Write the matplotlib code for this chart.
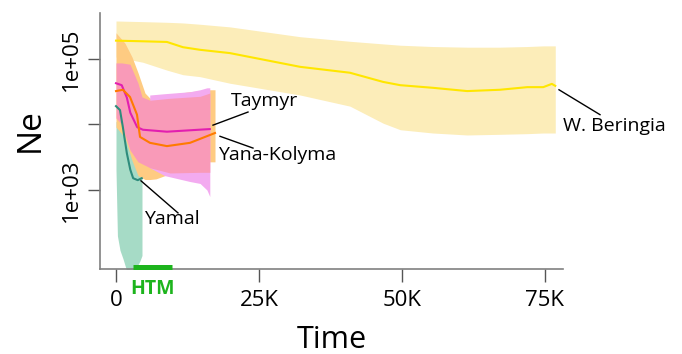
import matplotlib
matplotlib.use("Agg")
import matplotlib.pyplot as plt
import matplotlib.transforms as mtransforms
import numpy as np

plt.rcParams['font.family'] = ['Open Sans', 'DejaVu Sans']

# W. Beringia
wb_t = [0, 4700, 8900, 11700, 14700, 19900, 32200, 40900, 46700, 49700,
        55400, 61400, 67100, 71900, 74700, 76200, 76800]
wb_mid = [5.28, 5.27, 5.26, 5.18, 5.14, 5.09, 4.88, 4.79, 4.65, 4.60,
          4.56, 4.51, 4.53, 4.57, 4.57, 4.62, 4.59]
wb_hi = [5.58, 5.57, 5.56, 5.55, 5.53, 5.49, 5.34, 5.27, 5.23, 5.21,
         5.19, 5.18, 5.18, 5.19, 5.20, 5.20, 5.20]
wb_lo = [5.03, 4.95, 4.83, 4.76, 4.73, 4.63, 4.45, 4.28, 4.02, 3.92,
         3.87, 3.84, 3.85, 3.86, 3.87, 3.87, 3.87]

# Taymyr
ty_t = [0, 1000, 1900, 2500, 3700, 4700, 8900, 16400]
ty_mid = [4.63, 4.60, 4.41, 4.18, 3.96, 3.92, 3.89, 3.93]
ty_band_t = [0, 1000, 2450, 3850, 4550, 5940, 9440, 14700, 16400]
ty_hi = [4.94, 4.94, 4.92, 4.63, 4.42, 4.37, 4.40, 4.43, 4.48]
ty_lo = [4.10, 4.00, 3.61, 3.43, 3.40, 3.34, 3.26, 3.27, 3.27]
# helllila Rand
li_t = [5900, 8500, 12900, 14700, 15900, 16400]
li_hi = [4.45, 4.47, 4.50, 4.53, 4.56, 4.56]
li_lo = [3.34, 3.22, 3.13, 3.10, 3.00, 2.90]

# Yana-Kolyma
yk_t = [0, 1200, 2450, 3670, 4200, 5940, 8900, 12940, 16435, 17310]
yk_mid = [4.51, 4.53, 4.42, 4.15, 3.81, 3.72, 3.67, 3.72, 3.84, 3.87]
yk_band_t = [0, 1575, 2800, 3850, 5070, 5940, 7000, 8570, 9440, 12940, 16435, 17310]
yk_hi = [5.40, 5.24, 5.03, 4.79, 4.48, 4.40, 4.42, 4.45, 4.46, 4.50, 4.53, 4.53]
yk_lo = [3.96, 3.80, 3.45, 3.22, 3.16, 3.16, 3.17, 3.22, 3.27, 3.38, 3.43, 3.43]

# Yamal
ym_t = [0, 700, 1200, 1900, 2500, 3000, 3800, 4500]
ym_mid = [4.28, 4.22, 3.96, 3.56, 3.31, 3.18, 3.15, 3.18]
ym_band_t = [0, 250, 700, 1225, 1925, 2970, 3850, 4200, 4545]
ym_hi = [4.04, 4.06, 4.10, 4.00, 3.90, 3.70, 3.60, 3.55, 3.50]
ym_lo = [3.31, 2.30, 2.08, 1.95, 1.75, 1.75, 1.86, 1.92, 2.00]

htm = [3000, 9800]

xticks = [0, 25000, 50000, 75000]
xticklabels = ["0", "25K", "50K", "75K"]
yticks = [1e3, 1e4, 1e5]
yticklabels = ["1e+03", "", "1e+05"]


def ne(v):
    return 10 ** np.array(v)


fig = plt.figure(figsize=(6.82, 3.54), dpi=100)
ax = fig.add_axes([0.1466, 0.2401, 0.6789, 0.7232])

ax.fill_between(wb_t, ne(wb_lo), ne(wb_hi), color="#FCEDB9", lw=0, zorder=1)
ax.fill_between(ym_band_t, ne(ym_lo), ne(ym_hi), color="#A6DBC6", lw=0, zorder=2)
ax.fill_between(yk_band_t, ne(yk_lo), ne(yk_hi), color="#FECB82", lw=0, zorder=3)
ax.fill_between(li_t, ne(li_lo), ne(li_hi), color="#F3ABF0", lw=0, zorder=4)
ax.fill_between(ty_band_t, ne(ty_lo), ne(ty_hi), color="#F99AB8", lw=0, zorder=5)

ax.plot(wb_t, ne(wb_mid), color="#FFE600", lw=1.5, zorder=6)
ax.plot(ty_t, ne(ty_mid), color="#E21FB0", lw=1.5, zorder=7)
ax.plot(yk_t, ne(yk_mid), color="#FF7A00", lw=1.5, zorder=7)
ax.plot(ym_t, ne(ym_mid), color="#2E8C7C", lw=1.5, zorder=7)

# Beschriftungen
fs = 14
ax.plot([16960, 23080], [10 ** 3.99, 10 ** 4.19], color="k", lw=1, zorder=8)
ax.text(26050, 10 ** 4.36, "Taymyr", fontsize=fs, ha="center", va="center")
ax.plot([18180, 23950], [10 ** 3.82, 10 ** 3.64], color="k", lw=1, zorder=8)
ax.text(28150, 10 ** 3.53, "Yana-Kolyma", fontsize=fs, ha="center", va="center")
ax.plot([4370, 10840], [10 ** 3.14, 10 ** 2.65], color="k", lw=1, zorder=8)
ax.text(9790, 10 ** 2.56, "Yamal", fontsize=fs, ha="center", va="center")
ax.plot([77450, 84620], [10 ** 4.53, 10 ** 4.15], color="k", lw=1, zorder=8,
        clip_on=False)
ax.text(87060, 10 ** 3.98, "W. Beringia", fontsize=fs, ha="center", va="center")

# HTM Balken
trans = mtransforms.blended_transform_factory(ax.transData, ax.transAxes)
ax.plot(htm, [0.006, 0.006], color="#1DB41D", lw=3.6, transform=trans,
        clip_on=False, solid_capstyle="butt", zorder=9)
ax.text(np.mean(htm), -0.078, "HTM", color="#1DB41D", fontsize=14,
        fontweight="bold", ha="center", va="center", transform=trans)

ax.set_yscale("log")
ax.set_xlim(-2800, 78150)
ax.set_ylim(10 ** 1.794, 10 ** 5.702)
ax.set_xticks(xticks)
ax.set_xticklabels(xticklabels, fontsize=16)
ax.set_yticks(yticks)
ax.set_yticklabels(yticklabels, fontsize=16, rotation=90, va="center")
ax.minorticks_off()
ax.tick_params(axis="both", length=9, width=1, color="#555555")
ax.tick_params(axis="x", pad=6)
ax.tick_params(axis="y", pad=4)

for s in ["top", "right"]:
    ax.spines[s].set_visible(False)
for s in ["left", "bottom"]:
    ax.spines[s].set_color("#808080")
    ax.spines[s].set_linewidth(1.2)

ax.set_xlabel("Time", fontsize=22, va="center")
ax.xaxis.set_label_coords(0.5, -0.277)
ax.set_ylabel("Ne", fontsize=24, va="center")
ax.yaxis.set_label_coords(-0.151, 0.543)

fig.savefig("out.png", dpi=100)
